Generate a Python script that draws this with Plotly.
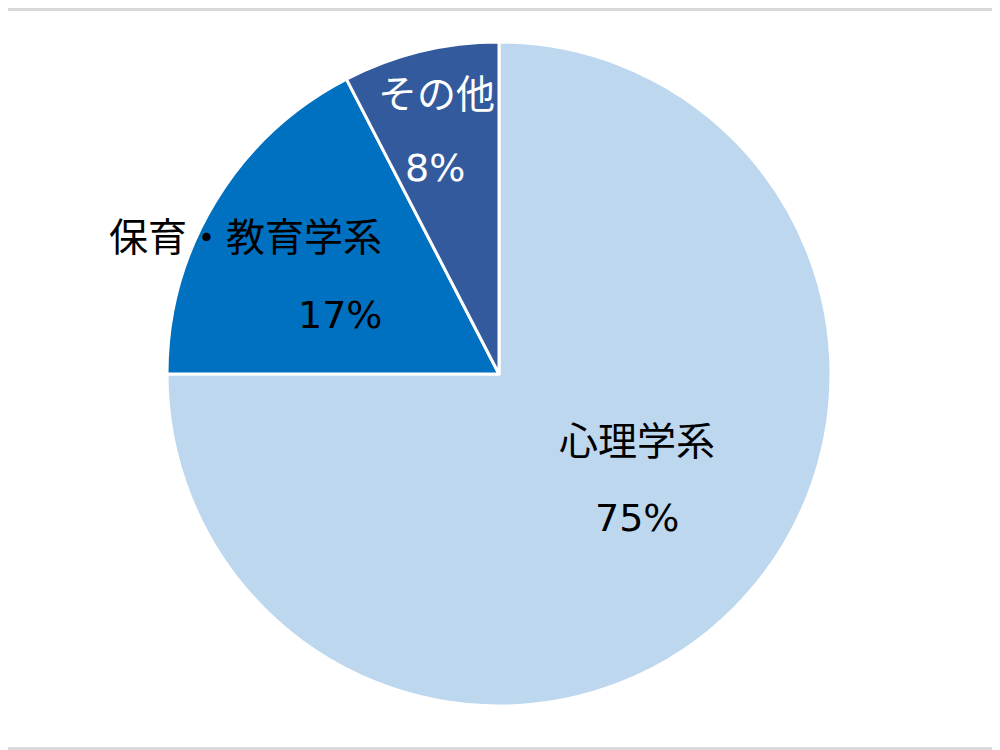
import plotly.graph_objects as go

labels = ["心理学系", "保育・教育学系", "その他"]
values = [75.0, 17.4, 7.6]  # shares
colors = ["#BDD7EE", "#0070C0", "#345A9E"]
text_colors = ["black", "black", "white"]

W, H = 992, 742  # page has an 8px body margin


def px(x, y):
    # reference pixel -> paper coords
    return (x - 8) / W, 1 - (y - 8) / H


# label anchor spots (reference pixels), one per slice
label_pos = [(637, 441), (245, 237), (436, 94)]
pct_pos = [(637, 518), (340, 315), (435, 168)]

x0, y1 = px(167, 42)
x1, y0 = px(831, 706)

fig = go.Figure(go.Pie(
    labels=labels,
    values=values,
    sort=False,
    direction="clockwise",
    rotation=0,
    marker=dict(colors=colors, line=dict(color="white", width=3)),
    textinfo="none",
    hoverinfo="label+percent",
    showlegend=False,
    domain=dict(x=[x0, x1], y=[y0, y1]),
))

total = sum(values)
font_family = "DejaVu Sans, Noto Sans CJK JP"
for i, lab in enumerate(labels):
    pct = f"{round(values[i] / total * 100)}%"
    lx, ly = px(*label_pos[i])
    fig.add_annotation(x=lx, y=ly, xref="paper", yref="paper",
                       xanchor="center", yanchor="middle",
                       text=lab, showarrow=False,
                       font=dict(size=39, color=text_colors[i], family=font_family))
    qx, qy = px(*pct_pos[i])
    fig.add_annotation(x=qx, y=qy, xref="paper", yref="paper",
                       xanchor="center", yanchor="middle",
                       text=pct, showarrow=False,
                       font=dict(size=38, color=text_colors[i], family=font_family))

# thin grey frame lines at top and bottom
fig.add_shape(type="line", xref="paper", yref="paper", x0=0, x1=1, y0=0.998, y1=0.998,
              line=dict(color="#D9D9D9", width=3))
fig.add_shape(type="line", xref="paper", yref="paper", x0=0, x1=1, y0=0.002, y1=0.002,
              line=dict(color="#D9D9D9", width=3))

fig.update_layout(
    width=W, height=H,
    margin=dict(l=0, r=0, t=0, b=0),
    paper_bgcolor="white",
    plot_bgcolor="white",
)

fig.write_html("out.html")
